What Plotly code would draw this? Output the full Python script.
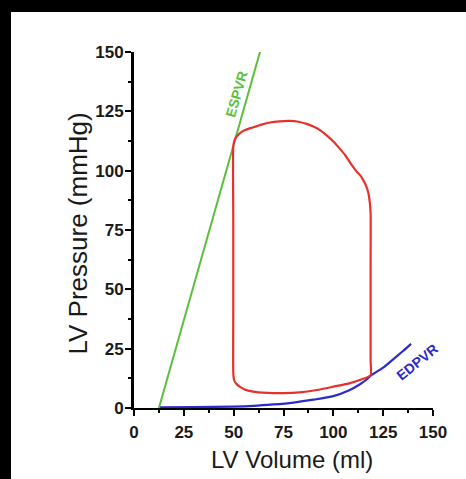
import plotly.graph_objects as go

# ---- data ----
espvr_vol = [12.5, 63.2]
espvr_p = [0, 150]

loop_vol = [49.8, 50.6, 53.2, 56.0, 59.9, 64.0, 68.2, 73.0, 78.3, 82.5, 86.6, 90.0, 93.3,
            96.8, 100.0, 103.0, 105.9, 109.2, 111.7, 113.5, 115.0, 116.5, 117.6, 118.3,
            118.7, 118.7, 118.7, 118.7, 118.7, 114.0, 108.4, 100.0, 91.8, 83.0, 75.0,
            67.0, 59.7, 55.5, 53.2, 51.3, 50.2, 49.8, 49.8, 49.8, 49.8]
loop_p = [110.0, 113.2, 115.8, 117.2, 118.3, 119.4, 120.3, 120.8, 121.0, 120.6, 119.7, 118.6,
          117.1, 114.8, 112.3, 109.5, 106.6, 102.4, 99.6, 98.0, 96.0, 93.5, 90.5, 86.5,
          82.0, 60.0, 40.0, 20.0, 13.8, 12.0, 10.5, 9.0, 7.6, 6.6, 6.3,
          6.4, 6.9, 7.8, 8.9, 10.2, 11.8, 15.0, 40.0, 80.0, 110.0]

edpvr_vol = [12.5, 30, 50, 60, 70, 80, 90, 100, 108, 113, 116.7, 118.7, 125, 130, 135, 139]
edpvr_p = [0.3, 0.4, 0.6, 0.9, 1.5, 2.3, 3.5, 5.0, 7.5, 9.8, 12.0, 13.6, 17.0, 20.5, 24.0, 27.0]

x_ticks = [0, 25, 50, 75, 100, 125, 150]
y_ticks = [0, 25, 50, 75, 100, 125, 150]

# ---- layout geometry (pixels) ----
W, H = 466, 479
L, R, T, B = 134, 433, 52, 408


def px(xp):
    return (xp - L) / (R - L)


def py(yp):
    return (B - yp) / (B - T)


fig = go.Figure()
fig.add_trace(go.Scatter(x=edpvr_vol, y=edpvr_p, mode="lines",
                         line=dict(color="#2b2bcc", width=2.2, shape="spline", smoothing=0.6),
                         hoverinfo="skip", showlegend=False))
fig.add_trace(go.Scatter(x=espvr_vol, y=espvr_p, mode="lines",
                         line=dict(color="#5cbf3c", width=2),
                         hoverinfo="skip", showlegend=False))
fig.add_trace(go.Scatter(x=loop_vol, y=loop_p, mode="lines",
                         line=dict(color="#e8302c", width=2.2, shape="spline", smoothing=0.5),
                         hoverinfo="skip", showlegend=False))

tickfont = dict(family="Liberation Sans, Arial", size=17, color="#1a1a1a", weight="bold")

fig.update_xaxes(range=[0, 150], tickvals=x_ticks, ticktext=[str(v) for v in x_ticks],
                 showline=True, linecolor="black", linewidth=2,
                 ticks="outside", ticklen=6, tickwidth=2, tickcolor="black",
                 minor=dict(ticks="outside", dtick=12.5, tick0=0, ticklen=3, tickwidth=1.5, tickcolor="black"),
                 showgrid=False, zeroline=False, tickfont=tickfont, ticklabelstandoff=2)
fig.update_yaxes(range=[0, 150], tickvals=y_ticks, ticktext=[str(v) for v in y_ticks],
                 showline=True, linecolor="black", linewidth=3,
                 ticks="outside", ticklen=6, tickwidth=2, tickcolor="black",
                 minor=dict(ticks="outside", dtick=12.5, tick0=0, ticklen=3, tickwidth=1.5, tickcolor="black"),
                 showgrid=False, zeroline=False, tickfont=tickfont, ticklabelstandoff=-2)

xtitle_font = dict(family="Liberation Sans, Arial", size=24, color="#1a1a1a")
ytitle_font = dict(family="Liberation Sans, Arial", size=26, color="#1a1a1a")
annotations = [
    dict(text="LV Volume (ml)", xref="paper", yref="paper", x=px(292), y=py(459),
         xanchor="center", yanchor="middle", showarrow=False, font=xtitle_font),
    dict(text="LV Pressure (mmHg)", xref="paper", yref="paper", x=px(77.5), y=py(234),
         xanchor="center", yanchor="middle", showarrow=False, textangle=-90, font=ytitle_font),
    dict(text="ESPVR", x=51.2, y=132, xref="x", yref="y", showarrow=False, textangle=-74,
         font=dict(family="Liberation Sans, Arial", size=14, color="#5cbf3c", weight="bold")),
    dict(text="EDPVR", x=142, y=19.4, xref="x", yref="y", showarrow=False, textangle=-39,
         font=dict(family="Liberation Sans, Arial", size=14, color="#2b2bcc", weight="bold")),
]

shapes = [
    dict(type="rect", xref="paper", yref="paper", x0=px(-2), x1=px(11), y0=py(H + 2), y1=py(-2),
         fillcolor="black", line=dict(width=0), layer="above"),
    dict(type="rect", xref="paper", yref="paper", x0=px(-2), x1=px(W + 2), y0=py(12), y1=py(-2),
         fillcolor="black", line=dict(width=0), layer="above"),
]

fig.update_layout(width=W, height=H, margin=dict(l=L, r=W - R, t=T, b=H - B, autoexpand=False),
                  paper_bgcolor="white", plot_bgcolor="white",
                  annotations=annotations, shapes=shapes, showlegend=False)

fig.write_html("out.html", config={"displayModeBar": False})
